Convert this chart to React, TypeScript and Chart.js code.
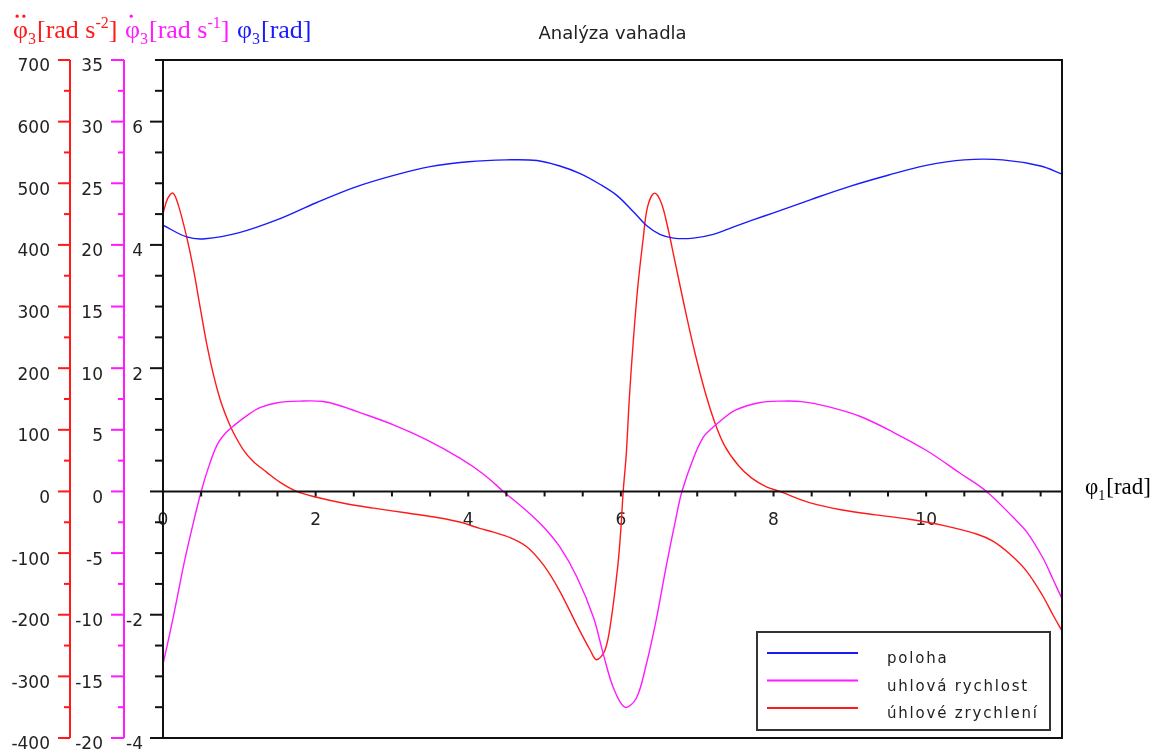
import React, { useEffect, useRef } from "react";
import { Chart, registerables } from "chart.js";

Chart.register(...registerables);

// ---- data ----
const polohaX = [0, 0.31, 0.55, 1.0, 1.5, 2.0, 2.5, 3.0, 3.5, 4.0, 4.5, 4.9, 5.2, 5.46, 5.73, 5.95, 6.17, 6.34, 6.51, 6.69, 6.95, 7.21, 7.47, 7.74, 8.0, 8.5, 9.0, 9.5, 10.0, 10.5, 11.0, 11.5, 11.78];
const polohaY = [4.32, 4.13, 4.10, 4.20, 4.41, 4.68, 4.93, 5.12, 5.27, 5.35, 5.38, 5.37, 5.28, 5.16, 4.98, 4.80, 4.53, 4.31, 4.17, 4.11, 4.11, 4.17, 4.29, 4.41, 4.52, 4.74, 4.95, 5.13, 5.29, 5.38, 5.38, 5.28, 5.15];

const rychlostX = [0, 0.09, 0.18, 0.27, 0.38, 0.5, 0.62, 0.72, 0.83, 0.94, 1.1, 1.27, 1.5, 1.8, 2.1, 2.32, 2.58, 3.02, 3.45, 3.89, 4.2, 4.46, 4.77, 4.99, 5.2, 5.42, 5.64, 5.77, 5.9, 6.05, 6.2, 6.33, 6.46, 6.59, 6.72, 6.8, 6.95, 7.08, 7.17, 7.3, 7.5, 7.81, 8.1, 8.37, 8.7, 9.13, 9.57, 10.01, 10.44, 10.79, 11.14, 11.32, 11.53, 11.66, 11.78];
const rychlostY = [-14.0, -11.5, -8.8, -6.0, -3.0, 0, 2.4, 3.9, 4.8, 5.4, 6.15, 6.8, 7.2, 7.33, 7.3, 6.95, 6.4, 5.4, 4.2, 2.7, 1.4, 0, -1.6, -2.9, -4.5, -6.9, -10.2, -13.2, -15.9, -17.5, -16.8, -14.1, -10.5, -6.2, -2.2, 0, 2.7, 4.4, 5.0, 5.7, 6.6, 7.2, 7.33, 7.29, 6.9, 6.1, 4.8, 3.3, 1.5, 0, -2.1, -3.3, -5.4, -7.1, -8.7];

const zrychleniX = [0, 0.06, 0.13, 0.2, 0.31, 0.4, 0.485, 0.572, 0.66, 0.747, 0.834, 0.92, 1.05, 1.18, 1.36, 1.53, 1.75, 2.0, 2.4, 2.76, 3.2, 3.63, 3.9, 4.15, 4.33, 4.55, 4.77, 4.99, 5.2, 5.42, 5.6, 5.68, 5.79, 5.87, 5.96, 6.0, 6.03, 6.07, 6.11, 6.16, 6.22, 6.29, 6.35, 6.44, 6.53, 6.62, 6.7, 6.84, 6.97, 7.1, 7.23, 7.36, 7.54, 7.71, 7.9, 8.08, 8.47, 8.9, 9.34, 9.78, 10.22, 10.66, 10.88, 11.1, 11.32, 11.53, 11.66, 11.78];
const zrychleniY = [451, 475, 484, 465, 413, 360, 300, 240, 190, 150, 120, 96, 68, 49, 31, 15, 0, -9, -20, -27, -35, -43, -50, -60, -66, -75, -90, -120, -162, -216, -258, -273, -258, -210, -120, -60, 0, 60, 150, 240, 330, 408, 462, 484, 468, 425, 378, 296, 225, 163, 112, 74, 42, 22, 8, 0, -18, -30, -38, -45, -55, -69, -81, -102, -130, -170, -200, -226];

const seriesLabels = ["poloha", "uhlová rychlost", "úhlové zrychlení"];

// ---- tick labels ----
const xTickLabels = [0, 2, 4, 6, 8, 10];
const polohaTicks = [-4, -2, 2, 4, 6];
const rychlostTicks = [-20, -15, -10, -5, 0, 5, 10, 15, 20, 25, 30, 35];
const zrychleniTicks = [-400, -300, -200, -100, 0, 100, 200, 300, 400, 500, 600, 700];

const X_MAX = 11.78;

const BLUE = "#1a1aff";
const MAGENTA = "#ff1aff";
const RED = "#ff1a1a";
const TEXT = "#222";
const SANS = '"DejaVu Sans"';
const SERIF = '"Liberation Serif"';

const zip = (xs: number[], ys: number[]) => xs.map((x, i) => ({ x, y: ys[i] }));

function drawPhiLabel(
  ctx: CanvasRenderingContext2D,
  x: number,
  base: number,
  color: string,
  size: number,
  dots: number,
  sub: string,
  main: string,
  sup: string,
  tail: string
) {
  const small = Math.round(size * 0.6);
  ctx.fillStyle = color;
  ctx.textAlign = "left";
  ctx.textBaseline = "alphabetic";
  ctx.font = `${size}px ${SERIF}`;
  ctx.fillText("φ", x, base);
  const wPhi = ctx.measureText("φ").width;
  const cx = x + wPhi / 2;
  const dy = base - size * 0.84;
  const r = size * 0.065;
  if (dots === 2) {
    ctx.beginPath();
    ctx.arc(cx - size * 0.13, dy, r, 0, Math.PI * 2);
    ctx.arc(cx + size * 0.13, dy, r, 0, Math.PI * 2);
    ctx.fill();
  } else if (dots === 1) {
    ctx.beginPath();
    ctx.arc(cx - size * 0.05, dy, r, 0, Math.PI * 2);
    ctx.fill();
  }
  let cur = x + wPhi;
  ctx.font = `${small}px ${SERIF}`;
  ctx.fillText(sub, cur, base + size * 0.22);
  cur += ctx.measureText(sub).width + 1;
  ctx.font = `${size}px ${SERIF}`;
  ctx.fillText(main, cur, base);
  cur += ctx.measureText(main).width;
  if (sup) {
    ctx.font = `${small}px ${SERIF}`;
    ctx.fillText(sup, cur, base - size * 0.4);
    cur += ctx.measureText(sup).width;
  }
  if (tail) {
    ctx.font = `${size}px ${SERIF}`;
    ctx.fillText(tail, cur, base);
  }
}

const decorPlugin = {
  id: "decor",
  afterDraw(chart: any) {
    const ctx = chart.ctx as CanvasRenderingContext2D;
    const area = chart.chartArea;
    const sx = chart.scales.x;
    const sy = chart.scales.y;
    const sv = chart.scales.yv;
    const sa = chart.scales.ya;
    ctx.save();
    ctx.lineCap = "butt";

    // frame
    ctx.strokeStyle = "#111";
    ctx.lineWidth = 2;
    ctx.strokeRect(area.left, area.top, area.right - area.left, area.bottom - area.top);

    const drawY = (scale: any, color: string, majorStep: number, minorStep: number, majLen: number, minLen: number) => {
      const x = scale.right;
      ctx.strokeStyle = color;
      ctx.lineWidth = 2;
      ctx.beginPath();
      ctx.moveTo(x, area.top);
      ctx.lineTo(x, area.bottom);
      ctx.stroke();
      const n = Math.round((scale.max - scale.min) / minorStep);
      for (let i = 0; i <= n; i++) {
        const v = scale.min + i * minorStep;
        const q = v / majorStep;
        const isMajor = Math.abs(q - Math.round(q)) < 1e-6;
        const y = scale.getPixelForValue(v);
        ctx.beginPath();
        ctx.moveTo(x - (isMajor ? majLen : minLen), y);
        ctx.lineTo(x, y);
        ctx.stroke();
      }
    };
    drawY(sa, RED, 100, 50, 12, 6);
    drawY(sv, MAGENTA, 5, 2.5, 13, 6);
    drawY(sy, "#111", 2, 0.5, 13, 8);

    // x axis through zero
    const y0 = sy.getPixelForValue(0);
    ctx.strokeStyle = "#111";
    ctx.lineWidth = 2;
    ctx.beginPath();
    ctx.moveTo(area.left, y0);
    ctx.lineTo(area.right, y0);
    ctx.stroke();
    for (let i = 0; i * 0.5 <= sx.max + 1e-9; i++) {
      const px = sx.getPixelForValue(i * 0.5);
      ctx.beginPath();
      ctx.moveTo(px, y0);
      ctx.lineTo(px, y0 + 5);
      ctx.stroke();
    }

    // axis titles
    drawPhiLabel(ctx, 13, 38, RED, 26, 2, "3", "[rad s", "-2", "]");
    drawPhiLabel(ctx, 125, 38, MAGENTA, 26, 1, "3", "[rad s", "-1", "]");
    drawPhiLabel(ctx, 237, 38, BLUE, 26, 0, "3", "[rad]", "", "");
    drawPhiLabel(ctx, area.right + 23, y0 + 3, "#000", 23, 0, "1", "[rad]", "", "");

    // legend
    const lw = 293;
    const lh = 98;
    const lx = area.right - 12 - lw;
    const ly = area.bottom - 8 - lh;
    ctx.fillStyle = "#fff";
    ctx.fillRect(lx, ly, lw, lh);
    ctx.strokeStyle = "#333";
    ctx.lineWidth = 2;
    ctx.strokeRect(lx, ly, lw, lh);
    ctx.font = `15px ${SANS}`;
    (ctx as any).letterSpacing = "1.8px";
    ctx.textAlign = "left";
    ctx.textBaseline = "alphabetic";
    chart.data.datasets.forEach((ds: any, i: number) => {
      const yy = ly + 21 + i * 27.5;
      ctx.strokeStyle = ds.borderColor;
      ctx.lineWidth = 2;
      ctx.beginPath();
      ctx.moveTo(lx + 10, yy);
      ctx.lineTo(lx + 101, yy);
      ctx.stroke();
      ctx.fillStyle = TEXT;
      ctx.fillText(ds.label, lx + 130, yy + 10);
    });
    ctx.restore();
  },
};

export default function App() {
  const ref = useRef<HTMLCanvasElement>(null);
  useEffect(() => {
    document.body.style.margin = "0";
    document.body.style.overflow = "hidden";
    const tickFont = { family: SANS, size: 17 };
    const fitY = (w: number) => (s: any) => {
      s.width = w;
      s.paddingTop = 0;
      s.paddingBottom = 0;
    };
    const yCommon = {
      type: "linear" as const,
      position: "left" as const,
      grid: { display: false, drawTicks: false },
      border: { display: false },
    };
    const chart = new Chart(ref.current as HTMLCanvasElement, {
      type: "line",
      data: {
        datasets: [
          { label: seriesLabels[0], data: zip(polohaX, polohaY), borderColor: BLUE, yAxisID: "y" },
          { label: seriesLabels[1], data: zip(rychlostX, rychlostY), borderColor: MAGENTA, yAxisID: "yv" },
          { label: seriesLabels[2], data: zip(zrychleniX, zrychleniY), borderColor: RED, yAxisID: "ya" },
        ],
      },
      options: {
        responsive: false,
        maintainAspectRatio: false,
        animation: false,
        layout: { padding: { left: 0, top: 0, right: 98, bottom: 11 } },
        elements: {
          point: { radius: 0 },
          line: { borderWidth: 1.4, tension: 0.35, fill: false },
        },
        plugins: {
          legend: { display: false },
          tooltip: { enabled: false },
          title: {
            display: true,
            text: "Analýza vahadla",
            fullSize: false,
            color: TEXT,
            font: { family: SANS, size: 18, weight: "normal", lineHeight: 1.2 },
            padding: { top: 24, bottom: 14.4 },
          },
        },
        scales: {
          x: {
            type: "linear",
            position: { y: 0 } as any,
            min: 0,
            max: X_MAX,
            grid: { display: false, drawTicks: false },
            border: { display: false },
            afterBuildTicks: (s: any) => {
              s.ticks = xTickLabels.map((v) => ({ value: v }));
            },
            ticks: { autoSkip: false, maxRotation: 0, padding: 19, color: TEXT, font: tickFont },
          },
          y: {
            ...yCommon,
            weight: 0,
            min: -4,
            max: 7,
            afterBuildTicks: (s: any) => {
              s.ticks = polohaTicks.map((v) => ({ value: v }));
            },
            afterFit: fitY(39),
            ticks: { autoSkip: false, padding: 20, labelOffset: 7, color: TEXT, font: tickFont },
          },
          yv: {
            ...yCommon,
            weight: 1,
            min: -20,
            max: 35,
            afterBuildTicks: (s: any) => {
              s.ticks = rychlostTicks.map((v) => ({ value: v }));
            },
            afterFit: fitY(54),
            ticks: { autoSkip: false, padding: 21, labelOffset: 7, color: TEXT, font: tickFont },
          },
          ya: {
            ...yCommon,
            weight: 2,
            min: -400,
            max: 700,
            afterBuildTicks: (s: any) => {
              s.ticks = zrychleniTicks.map((v) => ({ value: v }));
            },
            afterFit: fitY(70),
            ticks: { autoSkip: false, padding: 20, labelOffset: 7, color: TEXT, font: tickFont },
          },
        },
      } as any,
      plugins: [decorPlugin],
    });
    return () => chart.destroy();
  }, []);
  return (
    <canvas
      ref={ref}
      width={1160}
      height={749}
      style={{ display: "block", width: 1160, height: 749 }}
    />
  );
}
